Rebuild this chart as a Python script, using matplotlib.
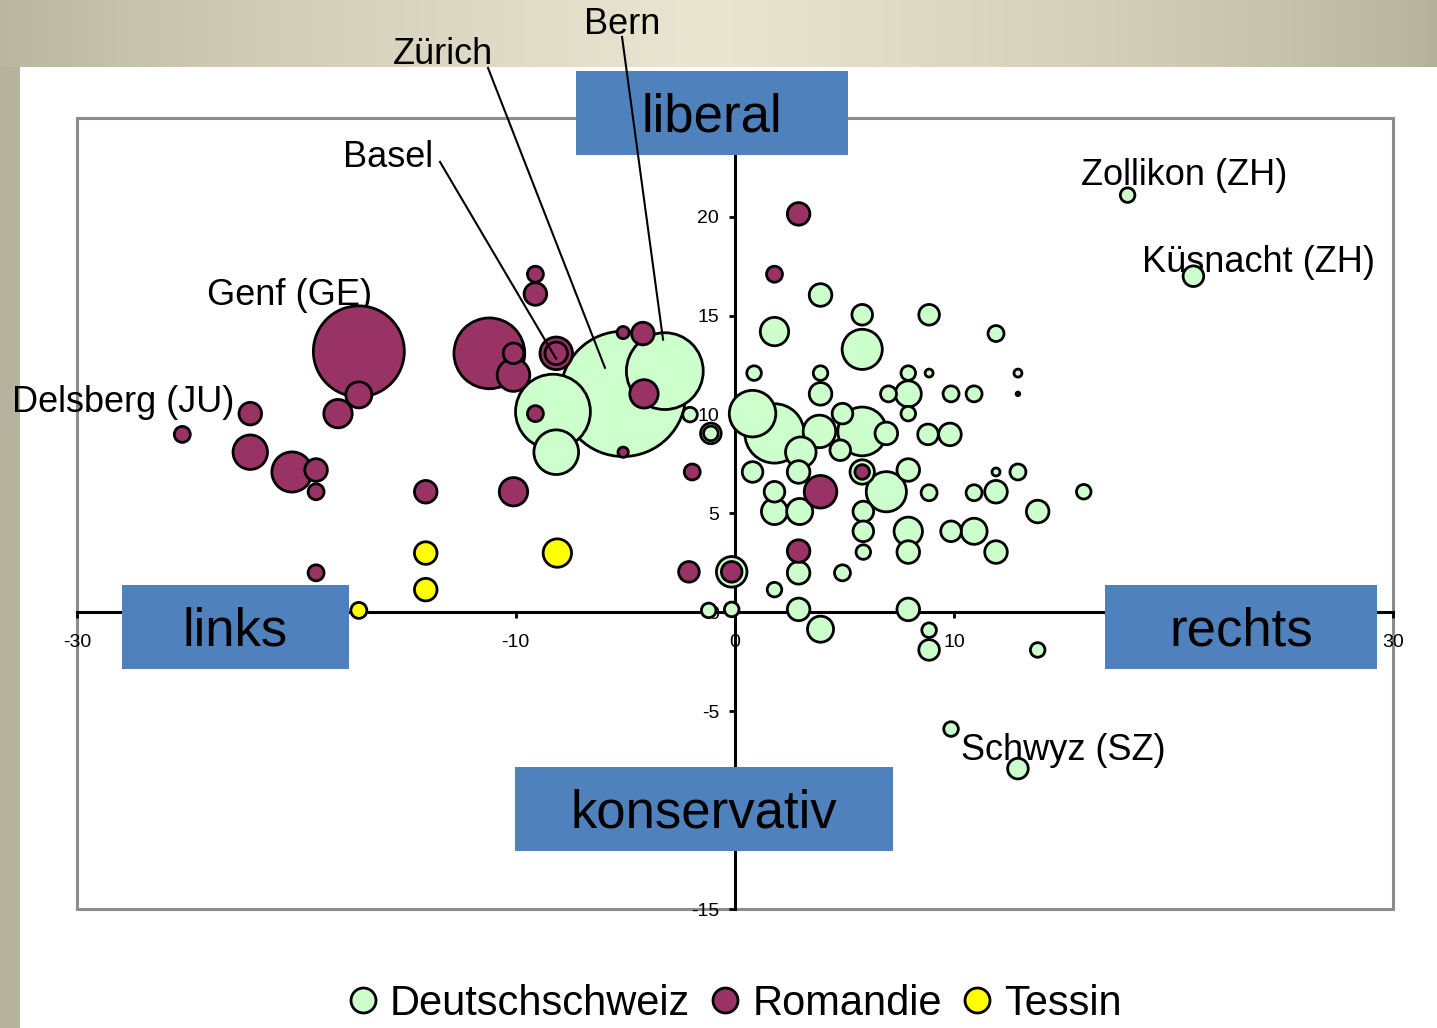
import numpy as np
import matplotlib
matplotlib.use("Agg")
import matplotlib.pyplot as plt
from matplotlib.patches import Rectangle
from matplotlib.lines import Line2D

plt.rcParams['font.family'] = ['Liberation Sans', 'DejaVu Sans']
plt.rcParams['axes.unicode_minus'] = False

# Deutschschweiz: links/rechts (x), konservativ/liberal (y), Einwohner in 1000 (Blasengroesse)
ds_x = [-5.1, -3.2, -8.3, -8.15, 1.8, 0.8, 5.8, 5.8, 6.9, 3.85, 3.0, 7.9, 1.8, -0.15,
        3.9, 7.9, 1.8, 2.95, 10.9, 5.8, 3.9, 3.9, 6.9, 9.8, 2.9, 7.9, 11.9, 13.8, 7.9,
        11.9, 2.9, 2.9, 7.9, 4.9, 4.8, 8.8, 0.8, 1.8, 5.85, 5.85, 9.85, 8.85, 5.8, 8.85,
        20.9, 12.9, -1.1, -1.1, 11.9, 7.0, 9.85, 10.9, 8.85, 10.9, 12.9, 4.9, 0.87, 3.9,
        7.9, 7.9, 5.85, 1.8, -0.15, -1.2, 8.85, 13.8, 15.9, 17.9, 9.85, -2.05, 8.85,
        12.9, 11.9, 12.9]
ds_y = [11.05, 12.2, 10.15, 8.1, 9.05, 10.05, 9.15, 13.3, 6.1, 9.15, 8.1, 4.1, 14.2, 2.05,
        -0.85, 11.05, 5.1, 5.1, 4.1, 7.1, 16.05, 11.05, 9.05, 9.0, 7.1, 7.2, 6.1, 5.1, 3.05,
        3.05, 2.0, 0.15, 0.15, 10.05, 8.2, 9.0, 7.1, 6.1, 5.1, 4.1, 4.1, -1.9, 15.05, 15.05,
        17.0, -7.9, 9.05, 9.05, 14.1, 11.05, 11.05, 11.05, 6.05, 6.05, 7.1, 2.0, 12.1, 12.1,
        12.1, 10.05, 3.05, 1.15, 0.15, 0.1, -0.9, -1.9, 6.1, 21.1, -5.9, 10.0, 12.1,
        12.1, 7.1, 11.05]
ds_size = [370, 139, 132, 47, 83, 51, 56, 38, 38, 25, 22, 19, 19, 22,
           16, 16, 16, 16, 16, 14, 12, 12, 12, 12, 12, 12, 12, 12, 12,
           12, 12, 12, 12, 10, 10, 10, 10, 10, 10, 10, 10, 10, 10, 10,
           10, 10, 10, 5, 6, 6, 6, 6, 6, 6, 6, 6, 5, 5,
           5, 5, 5, 5, 5, 5, 5, 5, 5, 5, 5, 5, 1.5,
           1.5, 1.5, 0.3]

# Romandie
ro_x = [-17.15, -11.2, -20.2, -22.1, -10.1, 3.9, -8.15, -8.15, -18.1, -4.15, -10.1,
        -17.15, -22.1, -19.1, -14.1, -9.1, -4.2, 2.9, 2.9, -10.1, -2.1, -0.15, -25.2,
        -19.1, -19.1, -9.1, -1.95, 1.8, -9.1, 5.8, -5.1, -5.1]
ro_y = [13.2, 13.1, 7.1, 8.1, 12.0, 6.1, 13.1, 13.1, 10.05, 11.05, 6.1,
        11.0, 10.05, 7.2, 6.1, 16.1, 14.1, 20.15, 3.1, 13.1, 2.05, 2.05, 9.0,
        6.1, 2.0, 17.1, 7.1, 17.1, 10.05, 7.1, 14.15, 8.1]
ro_size = [195, 118, 38, 28, 25, 25, 25, 12, 19, 19, 19,
           16, 12, 12, 12, 12, 12, 12, 12, 10, 10, 10, 6,
           6, 6, 6, 6, 6, 6, 5, 3.5, 2.5]

# Tessin
ti_x = [-8.1, -14.1, -14.1, -17.15]
ti_y = [3.0, 3.0, 1.15, 0.1]
ti_size = [19, 12, 12, 6]

series = [
    ("Deutschschweiz", ds_x, ds_y, ds_size, "#ccffcc"),
    ("Romandie", ro_x, ro_y, ro_size, "#993366"),
    ("Tessin", ti_x, ti_y, ti_size, "#ffff00"),
]

W, H = 1437, 1028
fig = plt.figure(figsize=(W / 100, H / 100), dpi=100)


def fx(px):
    return px / W


def fy(py):
    return 1 - py / H


# Hintergrund: Band oben und Streifen links
band = fig.add_axes([0, fy(67), 1, 67 / H])
t = np.linspace(0, 1, 400)
w = np.clip(1 - np.abs(t - 0.49) / 0.51, 0, 1) ** 0.7
edge = np.array([0.70, 0.69, 0.61])
center = np.array([0.92, 0.90, 0.82])
grad = edge[None, :] + (center - edge)[None, :] * w[:, None]
band.imshow(grad[None, :, :], aspect='auto', extent=[0, 1, 0, 1])
band.axis('off')
fig.add_artist(Rectangle((0, 0), 20 / W, fy(67), transform=fig.transFigure,
                         fc='#b5b29e', ec='none', zorder=-1))

ax = fig.add_axes([fx(77), fy(909), (1393 - 77) / W, (909 - 118) / H])
ax.set_xlim(-30, 30)
ax.set_ylim(-15, 25)
ax.set_facecolor('none')
ax.spines['left'].set_position(('data', 0))
ax.spines['bottom'].set_position(('data', 0))
ax.spines['top'].set_visible(False)
ax.spines['right'].set_visible(False)
for s in ['left', 'bottom']:
    ax.spines[s].set_linewidth(2.2)
    ax.spines[s].set_zorder(1)
ax.set_xticks([-30, -20, -10, 0, 10, 20, 30])
ax.set_yticks(range(-15, 30, 5))
ax.tick_params(axis='x', direction='out', length=4.5, width=2, pad=11, labelsize=14)
ax.tick_params(axis='y', direction='out', length=4.5, width=2, pad=7, labelsize=14)
ax.set_axisbelow(True)
ax.add_patch(Rectangle((0, 0), 1, 1, transform=ax.transAxes, fill=False,
                       ec='#8c8c8c', lw=2.2, clip_on=False, zorder=0.5))

K = 22
for name, xs, ys, sz, col in series:
    xs, ys, sz = np.array(xs), np.array(ys), np.array(sz, dtype=float)
    order = np.argsort(-sz, kind='stable')
    ax.scatter(xs[order], ys[order], s=sz[order] * K, c=col, edgecolors='black',
               linewidths=2, zorder=3)

# Beschriftungen
labels = [
    ("Bern", -5.15, 29.75),
    ("Zürich", -13.3, 28.2),
    ("Basel", -15.8, 23.0),
    ("Genf (GE)", -20.3, 16.0),
    ("Delsberg (JU)", -27.9, 10.6),
    ("Zollikon (ZH)", 20.5, 22.1),
    ("Küsnacht (ZH)", 23.85, 17.7),
    ("Schwyz (SZ)", 14.95, -6.97),
]
for txt, lx, ly in labels:
    ax.text(lx, ly, txt, fontsize=26, ha='center', va='center', zorder=2, clip_on=False)

leaders = [
    ((-5.15, -3.28), (29.1, 13.79)),
    ((-11.26, -5.93), (27.53, 12.37)),
    ((-13.45, -8.16), (22.78, 12.83)),
]
for lxs, lys in leaders:
    ax.plot(lxs, lys, color='black', lw=1.5, clip_on=False, zorder=7)

# Achsen-Boxen
boxes = [
    ("liberal", 576, 71, 848, 155),
    ("links", 122, 585, 349, 669),
    ("rechts", 1105, 585, 1377, 669),
    ("konservativ", 515, 767, 893, 851),
]
for txt, x0, y0, x1, y1 in boxes:
    ax.add_patch(Rectangle((fx(x0), fy(y1)), (x1 - x0) / W, (y1 - y0) / H,
                           transform=fig.transFigure, fc='#4f81bd', ec='none',
                           clip_on=False, zorder=5))
    ax.text(fx((x0 + x1) / 2), fy((y0 + y1) / 2 + 4), txt, transform=fig.transFigure,
            fontsize=38, ha='center', va='center', zorder=6)

handles = [Line2D([], [], ls='none', marker='o', markersize=18, markerfacecolor=col,
                  markeredgecolor='black', markeredgewidth=2)
           for _, _, _, _, col in series]
fig.legend(handles, [s[0] for s in series], loc='center',
           bbox_to_anchor=(fx(735), fy(1004)), ncol=3, frameon=False, fontsize=30,
           handlelength=0.7, handletextpad=0.3, columnspacing=0.5)

fig.savefig("out.png", dpi=100)
